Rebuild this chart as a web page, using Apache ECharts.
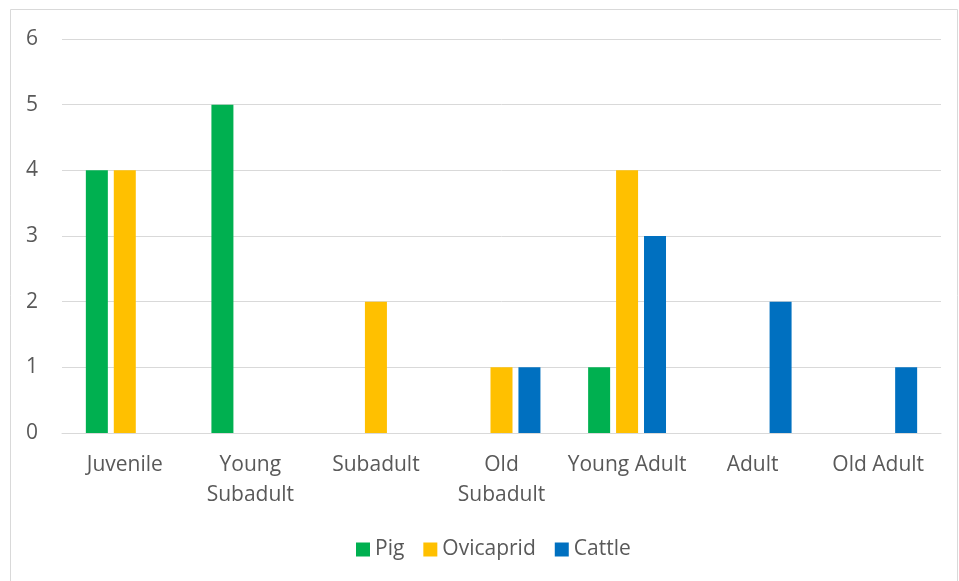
<!DOCTYPE html>
<html><head><meta charset="utf-8">
<script src="https://cdn.jsdelivr.net/npm/echarts@6/dist/echarts.min.js"></script>
<style>html,body{margin:0;padding:0;background:#fff}#c{width:959px;height:581px}</style>
</head><body><div id="c"></div>
<script>
const categories = ['Juvenile','Young Subadult','Subadult','Old Subadult','Young Adult','Adult','Old Adult'];
const tickLabels = ['Juvenile','Young\nSubadult','Subadult','Old\nSubadult','Young Adult','Adult','Old Adult'];
const pig = [4,5,0,0,1,0,0];
const ovicaprid = [4,0,2,1,4,0,0];
const cattle = [0,0,0,1,3,2,1];
const yTicks = [0,1,2,3,4,5,6];

const font = '"Open Sans", sans-serif';
const chart = echarts.init(document.getElementById('c'));
chart.setOption({
  animation:false,
  textStyle:{fontFamily:font},
  graphic:[{type:'rect',shape:{x:10.5,y:9.5,width:947,height:600},style:{fill:'none',stroke:'#d9d9d9',lineWidth:1},silent:true}],
  grid:{left:62,right:18,top:39,bottom:148},
  legend:{left:351,top:534,itemWidth:14,itemHeight:14,itemGap:19,icon:'rect',
    textStyle:{fontSize:21,color:'#595959',fontFamily:font},
    data:['Pig','Ovicaprid','Cattle']},
  xAxis:{type:'category',data:categories,
    axisLine:{lineStyle:{color:'#d9d9d9'}},axisTick:{show:false},
    axisLabel:{fontSize:21,color:'#595959',margin:17,lineHeight:30,interval:0,
      formatter:(v,i)=>tickLabels[i]}},
  yAxis:{type:'value',min:0,max:6,interval:1,
    axisLine:{show:false},axisTick:{show:false},
    splitLine:{lineStyle:{color:'#d9d9d9'}},
    axisLabel:{fontSize:21,color:'#595959',margin:24,formatter:v=>String(yTicks[v])}},
  series:[
    {name:'Pig',type:'bar',data:pig,barWidth:22,barGap:'27%',itemStyle:{color:'#00B050'}},
    {name:'Ovicaprid',type:'bar',data:ovicaprid,barWidth:22,barGap:'27%',itemStyle:{color:'#FFC000'}},
    {name:'Cattle',type:'bar',data:cattle,barWidth:22,barGap:'27%',itemStyle:{color:'#0070C0'}}
  ]
});
</script></body></html>
